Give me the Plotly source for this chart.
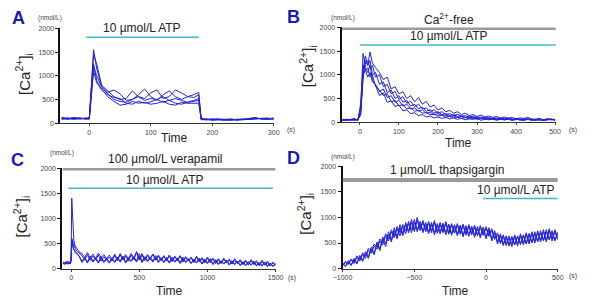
import plotly.graph_objects as go

W, H = 591, 299
TRACE = "#2323d6"
CYAN = "#3fb8cc"
GREY = "#9a9a9a"
LETTER = "#1b1bb0"
FONT = "Arial, Liberation Sans, sans-serif"

# ---------------- Panel A ----------------
tA = [-45, -35, -25, -15, -5, 0, 3, 7, 12, 20,
      30, 40, 50, 60, 70, 80, 90, 100, 110, 120,
      130, 140, 150, 160, 170, 178, 182, 190, 200, 210,
      220, 230, 240, 250, 260, 270, 280, 290, 300]
a1 = [110, 90, 120, 100, 90, 100, 800, 1550, 1150, 780,
      650, 700, 620, 480, 500, 600, 720, 560, 480, 600,
      680, 560, 500, 560, 600, 650, 90, 70, 80, 70,
      60, 70, 70, 80, 90, 110, 90, 80, 100]
a2 = [90, 110, 80, 100, 110, 90, 600, 1450, 1250, 800,
      680, 560, 500, 520, 680, 560, 520, 640, 700, 520,
      560, 700, 640, 560, 540, 600, 80, 90, 70, 80,
      70, 60, 80, 70, 100, 120, 80, 90, 90]
a3 = [100, 80, 100, 90, 100, 120, 500, 1200, 1000, 760,
      620, 500, 460, 440, 500, 560, 480, 520, 500, 560,
      480, 520, 480, 440, 480, 520, 70, 80, 90, 80,
      70, 80, 60, 80, 90, 100, 100, 90, 110]
a4 = [80, 100, 90, 110, 80, 100, 650, 1250, 900, 700,
      600, 540, 520, 420, 400, 460, 420, 450, 500, 440,
      480, 420, 400, 440, 460, 480, 100, 80, 60, 70,
      80, 90, 70, 70, 80, 90, 100, 110, 80]
a5 = [120, 100, 110, 90, 100, 80, 550, 1100, 850, 720,
      560, 460, 380, 400, 460, 420, 440, 400, 420, 460,
      400, 380, 440, 420, 420, 420, 80, 70, 80, 90,
      80, 70, 80, 90, 80, 90, 100, 90, 100]

# ---------------- Panel B ----------------
tB = [-45, -35, -25, -15, -5, 2, 8, 14, 20, 26, 32,
      40, 50, 60, 70, 80, 90, 100, 110, 120, 130,
      140, 150, 160, 170, 180, 190, 200, 210, 220, 230,
      240, 250, 260, 270, 280, 290, 300, 310, 320, 330,
      340, 350, 360, 370, 380, 390, 400, 410, 420, 430,
      440, 450, 460, 470, 480, 490, 500]
b1 = [40, 60, 50, 80, 40, 300, 1450, 1150, 1050, 1200, 900,
      780, 560, 620, 420, 450, 330, 360, 240, 260, 180,
      200, 140, 160, 110, 130, 90, 110, 80, 100, 70,
      90, 60, 80, 50, 70, 60, 80, 40, 60, 50,
      70, 40, 60, 50, 70, 40, 60, 50, 40, 60,
      50, 40, 60, 40, 50, 70, 40]
b2 = [50, 40, 60, 50, 60, 200, 1100, 1400, 1200, 1300, 1000,
      1050, 800, 850, 620, 680, 500, 560, 420, 460, 340,
      380, 280, 320, 230, 260, 190, 220, 160, 180, 140,
      160, 120, 140, 100, 130, 90, 110, 80, 100, 70,
      90, 70, 80, 60, 90, 60, 70, 50, 70, 60,
      60, 50, 70, 40, 60, 50, 60]
b3 = [60, 50, 40, 60, 50, 150, 900, 1300, 1200, 1480, 1250,
      1150, 1050, 900, 950, 700, 750, 600, 640, 500, 560,
      430, 520, 380, 440, 320, 360, 260, 300, 220, 250,
      190, 220, 160, 190, 140, 160, 120, 150, 110, 130,
      100, 120, 90, 110, 80, 100, 70, 90, 80, 100,
      70, 60, 80, 50, 70, 60, 50]
b4 = [50, 60, 50, 40, 60, 250, 1000, 1250, 1300, 1150, 1200,
      950, 1000, 750, 800, 600, 650, 480, 540, 400, 440,
      330, 380, 280, 300, 230, 260, 190, 220, 160, 180,
      140, 170, 120, 140, 100, 130, 90, 110, 80, 100,
      70, 90, 60, 80, 70, 60, 80, 50, 60, 70,
      50, 60, 40, 60, 50, 60, 50]
b5 = [40, 50, 60, 50, 40, 400, 1200, 1100, 1150, 950, 1000,
      750, 680, 560, 600, 430, 460, 340, 380, 280, 300,
      230, 250, 190, 200, 160, 170, 130, 150, 110, 120,
      100, 110, 80, 100, 70, 90, 60, 80, 60, 70,
      60, 50, 70, 50, 60, 40, 60, 50, 40, 60,
      50, 40, 60, 40, 50, 60, 40]
b6 = [50, 40, 50, 60, 50, 300, 1000, 1100, 950, 1050, 850,
      800, 650, 700, 520, 560, 420, 460, 340, 380, 280,
      300, 230, 260, 190, 210, 160, 180, 140, 150, 120,
      130, 100, 120, 90, 110, 80, 100, 70, 90, 70,
      80, 60, 70, 50, 80, 60, 50, 70, 50, 60,
      40, 60, 50, 40, 70, 50, 60]

# ---------------- Panel C ----------------
tC = [-60, -45, -30, -15, -5, 0, 5, 10, 15, 20, 30, 40, 50, 60,
      80, 100, 120, 140, 160, 180, 200, 220, 240, 260,
      280, 300, 320, 340, 360, 380, 400, 420, 440, 460,
      480, 500, 520, 540, 560, 580, 600, 620, 640, 660,
      680, 700, 720, 740, 760, 780, 800, 820, 840, 860,
      880, 900, 920, 940, 960, 980, 1000, 1020, 1040, 1060,
      1080, 1100, 1120, 1140, 1160, 1180, 1200, 1220, 1240, 1260,
      1280, 1300, 1320, 1340, 1360, 1380, 1400, 1420, 1440, 1460, 1480, 1500]
c1 = [120, 80, 150, 100, 130, 200, 1400, 1100, 700, 560, 450, 400, 360, 330,
      300, 220, 320, 210, 290, 200, 310, 220, 280, 200,
      270, 190, 290, 180, 300, 200, 280, 190, 300, 210,
      340, 200, 300, 190, 280, 210, 290, 190, 270, 180,
      260, 170, 270, 160, 250, 180, 260, 150, 240, 170,
      230, 140, 250, 150, 220, 130, 230, 140, 210, 120,
      200, 110, 210, 120, 190, 100, 200, 110, 180, 90,
      170, 80, 180, 90, 160, 70, 170, 80, 150, 60, 130, 70]
c2 = [100, 130, 90, 120, 100, 150, 500, 560, 420, 380, 320, 300, 270, 240,
      120, 200, 110, 220, 130, 190, 110, 210, 120, 180,
      110, 190, 120, 200, 130, 220, 110, 190, 140, 210,
      130, 250, 120, 210, 140, 200, 130, 220, 120, 190,
      120, 200, 110, 190, 130, 180, 100, 200, 120, 180,
      100, 170, 110, 190, 90, 170, 100, 180, 80, 160,
      80, 150, 90, 160, 70, 150, 80, 140, 60, 130,
      60, 130, 70, 140, 50, 120, 60, 130, 40, 110, 50, 100]
c3 = [140, 100, 120, 90, 150, 180, 600, 580, 500, 450, 400, 350, 330, 300,
      260, 170, 280, 160, 250, 180, 270, 150, 240, 170,
      230, 150, 260, 160, 280, 170, 250, 150, 270, 180,
      320, 170, 270, 160, 260, 180, 290, 170, 250, 160,
      240, 150, 260, 140, 230, 160, 250, 130, 220, 150,
      210, 120, 230, 130, 200, 110, 210, 120, 190, 100,
      180, 100, 190, 110, 170, 90, 160, 100, 150, 80,
      150, 70, 160, 80, 130, 60, 140, 70, 120, 50, 110, 60]
c4 = [90, 120, 110, 140, 100, 160, 450, 520, 430, 380, 340, 300, 280, 250,
      140, 230, 130, 250, 150, 220, 130, 240, 140, 210,
      130, 210, 140, 230, 150, 250, 130, 220, 160, 240,
      150, 300, 140, 240, 160, 230, 150, 260, 140, 220,
      130, 220, 120, 230, 140, 210, 120, 230, 130, 200,
      110, 190, 120, 210, 100, 190, 110, 200, 90, 180,
      90, 160, 100, 170, 80, 160, 90, 150, 70, 140,
      60, 140, 70, 150, 60, 120, 50, 130, 50, 110, 40, 100]

# ---------------- Panel D ----------------
tD = [-1000, -980, -960, -940, -920, -900, -880, -860, -840, -820,
      -800, -780, -760, -740, -720, -700, -680, -660, -640, -620,
      -600, -580, -560, -540, -520, -500, -480, -460, -440, -420,
      -400, -380, -360, -340, -320, -300, -280, -260, -240, -220,
      -200, -180, -160, -140, -120, -100, -80, -60, -40, -20,
      0, 20, 40, 60, 80, 100, 120, 140, 160, 180,
      200, 220, 240, 260, 280, 300, 320, 340, 360, 380,
      400, 420, 440, 460, 480, 500]
d1 = [110, 50, 160, 70, 200, 110, 260, 160, 330, 230,
      420, 300, 520, 390, 620, 480, 720, 560, 800, 620,
      860, 680, 900, 730, 960, 760, 1000, 780, 940, 760,
      920, 740, 940, 720, 900, 730, 920, 700, 880, 720,
      880, 700, 870, 680, 860, 690, 850, 660, 840, 680,
      820, 660, 780, 600, 700, 520, 660, 480, 640, 470,
      660, 480, 680, 500, 700, 520, 720, 540, 740, 560,
      760, 560, 780, 580, 760, 600]
d2 = [60, 120, 80, 170, 100, 220, 150, 280, 200, 360,
      300, 440, 380, 540, 460, 640, 540, 720, 600, 780,
      640, 820, 680, 880, 700, 900, 720, 880, 700, 860,
      680, 860, 660, 840, 680, 850, 660, 840, 650, 820,
      640, 810, 620, 800, 630, 790, 610, 780, 600, 770,
      580, 760, 540, 700, 480, 640, 450, 610, 440, 600,
      460, 620, 470, 640, 480, 660, 500, 680, 520, 700,
      540, 720, 560, 700, 540, 680]
d3 = [90, 40, 130, 60, 170, 90, 230, 140, 300, 200,
      380, 270, 480, 350, 580, 430, 660, 520, 740, 580,
      800, 640, 860, 700, 900, 720, 940, 740, 900, 720,
      880, 700, 900, 690, 860, 700, 880, 670, 850, 690,
      840, 670, 830, 650, 820, 660, 810, 640, 800, 650,
      790, 630, 740, 570, 660, 490, 620, 450, 600, 430,
      620, 440, 640, 460, 660, 480, 680, 500, 700, 520,
      720, 520, 740, 540, 720, 560]
d4 = [80, 140, 100, 190, 130, 250, 180, 310, 240, 400,
      340, 480, 420, 580, 500, 680, 580, 760, 640, 820,
      700, 860, 740, 920, 760, 960, 760, 920, 740, 900,
      720, 900, 700, 880, 720, 890, 700, 870, 690, 860,
      680, 850, 660, 840, 670, 830, 650, 820, 640, 810,
      620, 800, 580, 740, 520, 680, 480, 640, 470, 630,
      480, 640, 490, 660, 500, 690, 520, 720, 540, 740,
      560, 760, 580, 740, 560, 720]

y_ticks = [0, 500, 1000, 1500, 2000]
panels = [
    dict(key="", t=tA, ys=[a1, a2, a3, a4, a5], xr=[-47, 300], xt=[0, 100, 200, 300],
         px=(52, 272), py=(25, 122)),
    dict(key="2", t=tB, ys=[b1, b2, b3, b4, b5, b6], xr=[-47, 502], xt=[0, 100, 200, 300, 400, 500],
         px=(342, 563), py=(24, 121)),
    dict(key="3", t=tC, ys=[c1, c2, c3, c4], xr=[-64, 1500], xt=[0, 500, 1000, 1500],
         px=(54, 274), py=(168, 271)),
    dict(key="4", t=tD, ys=[d1, d2, d3, d4], xr=[-1000, 500], xt=[-1000, -500, 0, 500],
         px=(343, 565), py=(166, 271)),
]

fig = go.Figure()
layout = dict(width=W, height=H, margin=dict(l=0, r=0, t=0, b=0),
              paper_bgcolor="white", plot_bgcolor="white", showlegend=False,
              font=dict(family=FONT, color="#333"))

def fx(px):
    return px / W

def fy(py):
    return 1 - py / H

for p in panels:
    k = p["key"]
    for y in p["ys"]:
        fig.add_trace(go.Scatter(x=p["t"], y=y, mode="lines",
                                 line=dict(color=TRACE, width=1),
                                 xaxis="x" + k, yaxis="y" + k, hoverinfo="skip"))
    layout["xaxis" + k] = dict(domain=[fx(p["px"][0]), fx(p["px"][1])], range=p["xr"],
                               anchor="y" + k, tickvals=p["xt"], showgrid=False, zeroline=False,
                               showline=True, linecolor="#333", linewidth=1,
                               ticks="outside", ticklen=2, tickcolor="#444",
                               tickfont=dict(size=7, color="#444"))
    layout["yaxis" + k] = dict(domain=[fy(p["py"][1]), fy(p["py"][0])], range=[0, 2000],
                               anchor="x" + k, tickvals=y_ticks, showgrid=False, zeroline=False,
                               showline=True, linecolor="#111", linewidth=2,
                               ticks="outside", ticklen=3, tickcolor="#111",
                               tickfont=dict(size=7, color="#444"))

fig.update_layout(**layout)

ann = []
def text(x, y, s, size, color="#222", bold=False, angle=0, xanchor="center"):
    if bold:
        s = "<b>" + s + "</b>"
    ann.append(dict(x=fx(x), y=fy(y), xref="paper", yref="paper", text=s, showarrow=False,
                    font=dict(size=size, color=color, family=FONT), textangle=angle,
                    xanchor=xanchor, yanchor="middle"))

# panel letters
for (x, y, s) in [(9, 14, "A"), (292, 13, "B"), (8, 160, "C"), (292, 158, "D")]:
    text(x, y, s, 18, LETTER, bold=True)
# units
for (x, y) in [(41, 14), (343, 14), (54, 153), (343, 157)]:
    text(x, y, "(nmol/L)", 6.5, "#444")
for (x, y) in [(290, 129), (581, 129), (291, 281), (581, 279)]:
    text(x, y, "(s)", 7, "#444")
for (x, y) in [(170, 137), (463, 142), (164, 294), (459, 294)]:
    text(x, y, "Time", 12, "#222")
for (x, y) in [(14, 72), (307, 64), (12, 218), (305, 215)]:
    text(x, y, "[Ca<sup>2+</sup>]<sub>i</sub>", 15, "#222", angle=-90)

text(136, 25, "10 µmol/L ATP", 12)
text(453, 15, "Ca<sup>2+</sup>-free", 12)
text(453, 33, "10 µmol/L ATP", 12)
text(160, 159, "100 µmol/L verapamil", 12)
text(160, 180, "10 µmol/L ATP", 12)
text(451, 170, "1 µmol/L thapsigargin", 12)
text(564, 190, "10 µmol/L ATP", 12, xanchor="right")

shapes = []
def bar(xk, yk, x0, x1, y, color, w):
    shapes.append(dict(type="line", xref="x" + xk, yref="y" + yk, x0=x0, x1=x1, y0=y, y1=y,
                       line=dict(color=color, width=w)))

bar("", "", -5, 178, 1814, CYAN, 1.5)
bar("2", "2", -47, 502, 1990, GREY, 4)
bar("2", "2", 0, 502, 1630, CYAN, 1.5)
bar("3", "3", -64, 1500, 1990, GREY, 4)
bar("3", "3", -20, 1480, 1600, CYAN, 1.5)
bar("4", "4", -1000, 500, 1730, GREY, 4)
bar("4", "4", -20, 500, 1370, CYAN, 1.5)

fig.update_layout(annotations=ann, shapes=shapes)
fig.write_html("out.html")
